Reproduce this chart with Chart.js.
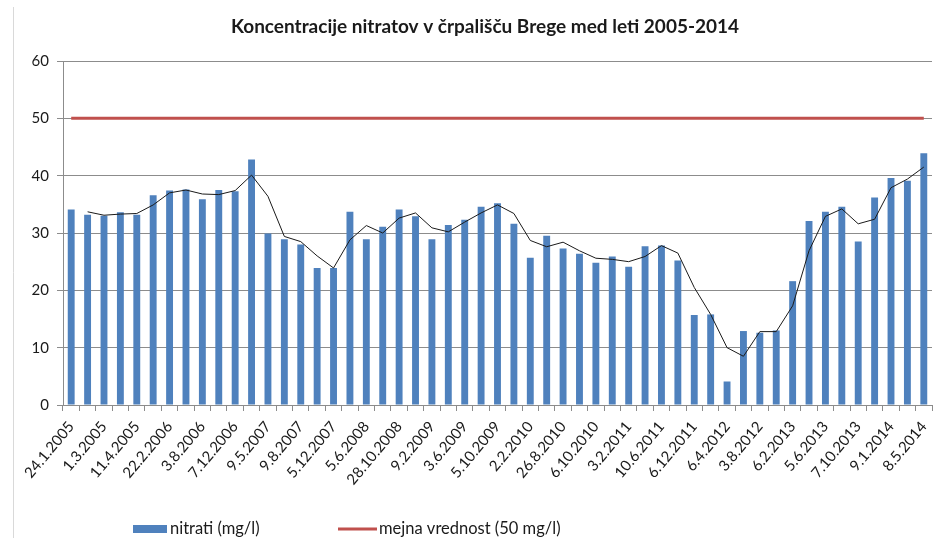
<!DOCTYPE html>
<html>
<head>
<meta charset="utf-8">
<script src="https://cdn.jsdelivr.net/npm/chart.js@4/dist/chart.umd.min.js"></script>
<style>
  html, body { margin: 0; padding: 0; background: #fff; }
</style>
</head>
<body>
<canvas id="myChart" width="949" height="538"></canvas>
<script>
// dates shown under every second bar
const dateLabels = ['24.1.2005', '1.3.2005', '11.4.2005', '22.2.2006', '3.8.2006', '7.12.2006', '9.5.2007',
  '9.8.2007', '5.12.2007', '5.6.2008', '28.10.2008', '9.2.2009', '3.6.2009', '5.10.2009', '2.2.2010',
  '26.8.2010', '6.10.2010', '3.2.2011', '10.6.2011', '6.12.2011', '6.4.2012', '3.8.2012', '6.2.2013',
  '5.6.2013', '7.10.2013', '9.1.2014', '8.5.2014']

// nitrati (mg/l), one value per sample
const nitrati = [34.1, 33.2, 33.0, 33.6, 33.2, 36.6, 37.4, 37.6, 35.9, 37.5, 37.3, 42.8, 29.9, 28.9, 28.0,
  23.9, 23.9, 33.7, 28.9, 31.1, 34.1, 32.9, 28.9, 31.4, 32.3, 34.6, 35.2, 31.6, 25.7, 29.5, 27.3, 26.4,
  24.8, 25.9, 24.1, 27.7, 27.8, 25.2, 15.7, 15.8, 4.1, 12.9, 12.6, 13.0, 21.6, 32.1, 33.7, 34.6, 28.5,
  36.2, 39.6, 39.1, 43.9]

// black trend line (2 per. moving average)
const trend = [null, 33.7, 33.1, 33.3, 33.4, 34.9, 37.0, 37.5, 36.8, 36.7, 37.4, 40.1, 36.4, 29.4, 28.5,
  26.0, 23.9, 28.8, 31.3, 30.0, 32.6, 33.5, 30.9, 30.2, 31.9, 33.5, 34.9, 33.4, 28.7, 27.6, 28.4, 26.9,
  25.6, 25.4, 25.0, 25.9, 27.8, 26.5, 20.5, 15.8, 10.0, 8.5, 12.8, 12.8, 17.3, 26.9, 32.9, 34.2, 31.6,
  32.4, 37.9, 39.4, 41.5]

const limitValue = 50
const yTicks = [0, 10, 20, 30, 40, 50, 60]
const title = 'Koncentracije nitratov v črpališču Brege med leti 2005-2014'

const categories = nitrati.map((v, i) => i % 2 === 0 ? dateLabels[i / 2] : '')
const limitLine = categories.map(() => limitValue)

const font = 'Lato, "Open Sans", sans-serif'

// title + legend drawn by hand so they sit where excel put them
const excelBits = {
  id: 'excelBits',
  afterDraw(chart) {
    const ctx = chart.ctx
    const ds = chart.data.datasets
    ctx.save()
    // outer frame line on the left
    ctx.strokeStyle = '#d9d9d9'
    ctx.lineWidth = 1
    ctx.beginPath()
    ctx.moveTo(13.5, 7)
    ctx.lineTo(13.5, 538)
    ctx.stroke()

    ctx.fillStyle = '#1a1a1a'
    ctx.textBaseline = 'middle'
    ctx.textAlign = 'center'
    ctx.font = 'bold 19px ' + font
    ctx.fillText(title, 485, 27)

    ctx.textAlign = 'left'
    ctx.font = '16.5px ' + font
    const y = 529
    ctx.fillStyle = ds[0].backgroundColor
    ctx.fillRect(133, y - 4, 34, 8)
    ctx.fillStyle = '#1a1a1a'
    ctx.fillText(ds[0].label, 170, y)

    ctx.strokeStyle = ds[1].borderColor
    ctx.lineWidth = 3
    ctx.beginPath()
    ctx.moveTo(338, y)
    ctx.lineTo(377, y)
    ctx.stroke()
    ctx.fillText(ds[1].label, 379, y)
    ctx.restore()
  }
}

const ctx = document.getElementById('myChart')

const myChart = new Chart(ctx, {
  data: {
    labels: categories,
    datasets: [{
      type: 'bar',
      label: 'nitrati (mg/l)',
      data: nitrati,
      backgroundColor: '#4f81bd',
      barPercentage: 0.42,
      categoryPercentage: 1,
      order: 3
    }, {
      type: 'line',
      label: 'mejna vrednost (50 mg/l)',
      data: limitLine,
      borderColor: '#c0504d',
      borderWidth: 3,
      pointRadius: 0,
      order: 1
    }, {
      type: 'line',
      label: 'trend',
      data: trend,
      borderColor: '#1a1a1a',
      borderWidth: 1,
      pointRadius: 0,
      tension: 0,
      order: 2
    }]
  },
  options: {
    responsive: false,
    animation: false,
    devicePixelRatio: 1,
    layout: { padding: { left: 0, right: 17, top: 61, bottom: 0 } },
    plugins: {
      legend: { display: false },
      tooltip: { enabled: false },
      title: { display: false }
    },
    scales: {
      x: {
        offset: true,
        grid: { display: true, drawOnChartArea: false, offset: true, color: '#8c8c8c', tickLength: 6 },
        border: { color: '#8c8c8c' },
        ticks: {
          autoSkip: false,
          maxRotation: 50,
          minRotation: 50,
          padding: 7,
          color: '#1a1a1a',
          font: { family: font, size: 15 }
        },
        afterFit(scale) { scale.height = 133 }
      },
      y: {
        min: yTicks[0],
        max: yTicks[yTicks.length - 1],
        afterBuildTicks(scale) { scale.ticks = yTicks.map(v => ({ value: v })) },
        grid: { color: '#8c8c8c', tickLength: 6 },
        border: { color: '#8c8c8c' },
        ticks: {
          padding: 8,
          color: '#1a1a1a',
          font: { family: font, size: 15 }
        },
        afterFit(scale) { scale.width = 63 }
      }
    }
  },
  plugins: [excelBits]
})
</script>
</body>
</html>
